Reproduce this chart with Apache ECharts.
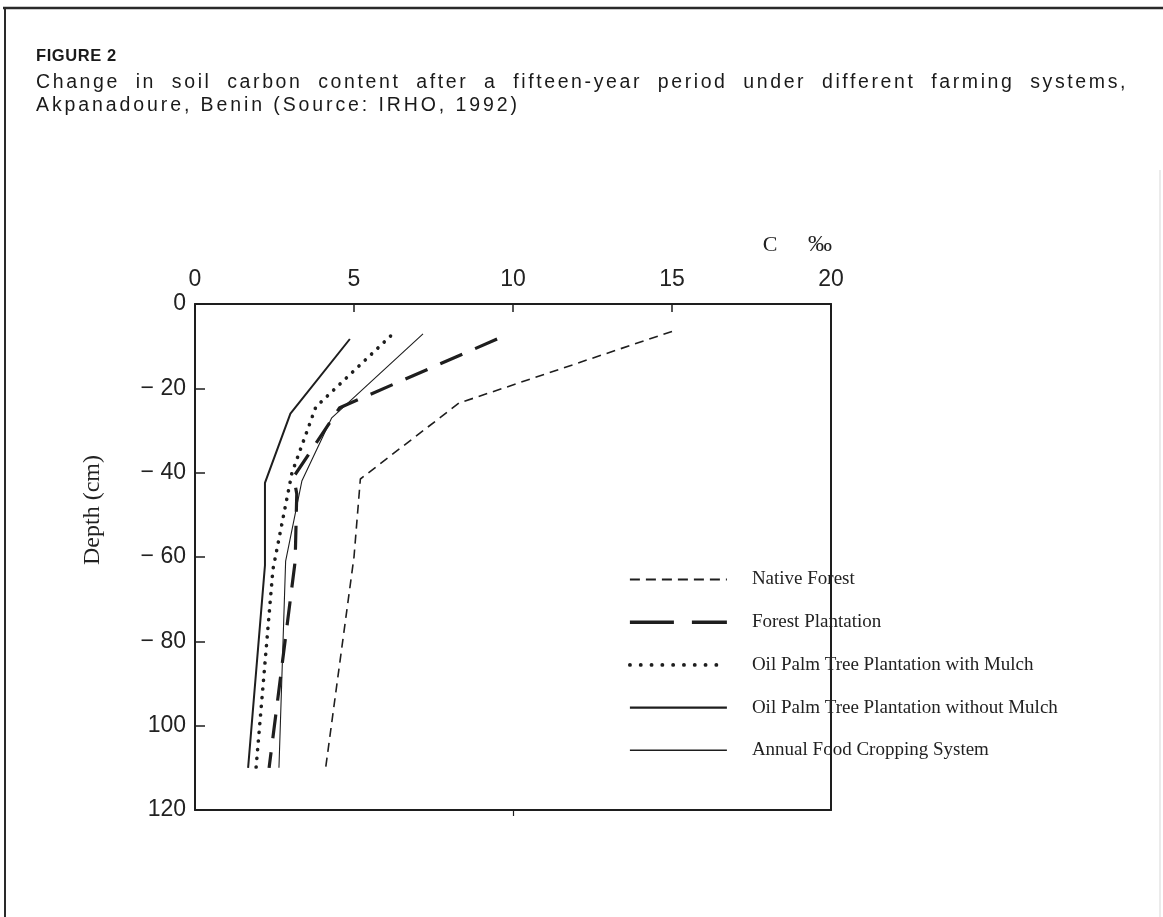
<!DOCTYPE html>
<html><head><meta charset="utf-8">
<script src="https://cdn.jsdelivr.net/npm/echarts@6/dist/echarts.min.js"></script>
<style>
html,body{margin:0;padding:0;background:#fff;}
#chart{position:absolute;left:0;top:0;width:1163px;height:917px;}
.cap{position:absolute;left:36px;font-family:"Liberation Sans",Arial,sans-serif;color:#1a1a1a;white-space:nowrap;}
</style></head><body>
<div id="chart"></div>
<div class="cap" style="top:46px;font-weight:bold;font-size:16.5px;letter-spacing:0.6px;">FIGURE 2</div>
<div class="cap" style="top:70px;width:1092px;font-size:19.5px;letter-spacing:2.6px;text-align:justify;text-align-last:justify;white-space:normal;">Change in soil carbon content after a fifteen-year period under different farming systems,</div>
<div class="cap" style="top:93px;font-size:19.5px;letter-spacing:2.9px;">Akpanadoure, Benin (Source: IRHO, 1992)</div>
<script>
// ---- data: [carbon ‰, depth cm] ----
const seriesNames = [
  'Native Forest',
  'Forest Plantation',
  'Oil Palm Tree Plantation with Mulch',
  'Oil Palm Tree Plantation without Mulch',
  'Annual Food Cropping System'
];
const nativeForest      = [[15.0, 6.5], [8.3, 23.5], [5.2, 41.5], [5.0, 60], [4.1, 110.5]];
const forestPlantation  = [[9.5, 8.3], [4.55, 24.6], [3.1, 41], [3.2, 45], [3.15, 61], [2.33, 110]];
const oilPalmMulch      = [[6.15, 7.6], [3.8, 24.4], [3.05, 40], [2.45, 63], [1.92, 110]];
const oilPalmNoMulch    = [[4.87, 8.3], [3.0, 26], [2.2, 42.4], [2.2, 62], [1.67, 110]];
const annualCropping    = [[7.17, 7.1], [4.3, 27], [3.36, 42], [2.85, 61], [2.64, 110]];
const xTickValues = [0, 5, 10, 15, 20];
const yTickLabels = ['0', '\u2212 20', '\u2212 40', '\u2212 60', '\u2212 80', '100', '120'];

const ink = '#1e1e1e';
const lineStyles = [
  {color: ink, width: 1.6, type: [9, 6]},
  {color: ink, width: 3.2, type: [24, 14]},
  {color: ink, width: 3.6, type: [0.1, 8.6], cap: 'round'},
  {color: ink, width: 2.0, type: 'solid'},
  {color: ink, width: 1.1, type: 'solid'}
];
const legendLineStyles = [
  {color: ink, width: 2, type: [10, 6]},
  {color: ink, width: 3.4, type: [44, 18]},
  {color: ink, width: 3.8, type: [0.1, 10.7], cap: 'round'},
  {color: ink, width: 2.2, type: 'solid'},
  {color: ink, width: 1.4, type: 'solid'}
];
const allData = [nativeForest, forestPlantation, oilPalmMulch, oilPalmNoMulch, annualCropping];

const chart = echarts.init(document.getElementById('chart'));
const tickFont = {fontFamily: 'Liberation Sans, Arial, sans-serif', fontSize: 23, color: '#222'};
const serif = 'Liberation Serif, Times New Roman, serif';
const axisLineStyle = {show: true, onZero: false, lineStyle: {color: ink, width: 2}};

chart.setOption({
  animation: false,
  backgroundColor: '#fff',
  grid: {left: 195, top: 304, width: 636, height: 506},
  xAxis: [{
    type: 'value', position: 'top', min: 0, max: 20, interval: 5,
    axisLine: axisLineStyle,
    axisTick: {show: true, inside: true, length: 8, lineStyle: {color: ink, width: 1.5}},
    axisLabel: Object.assign({margin: 13, formatter: v => xTickValues.includes(v) ? String(v) : ''}, tickFont),
    splitLine: {show: false}
  }, {
    type: 'value', position: 'bottom', min: 0, max: 20, interval: 10,
    axisLine: axisLineStyle,
    axisTick: {show: true, inside: false, length: 6, customValues: [10], lineStyle: {color: ink, width: 1.2}},
    axisLabel: {show: false}, splitLine: {show: false}
  }],
  yAxis: [{
    type: 'value', inverse: true, min: 0, max: 120, interval: 20,
    axisLine: axisLineStyle,
    axisTick: {show: true, inside: true, length: 10, lineStyle: {color: ink, width: 1.5}},
    axisLabel: Object.assign({margin: 9, formatter: (v) => yTickLabels[Math.round(v / 20)]}, tickFont),
    splitLine: {show: false}
  }, {
    type: 'value', position: 'right', inverse: true, min: 0, max: 120, interval: 20,
    axisLine: axisLineStyle,
    axisTick: {show: false}, axisLabel: {show: false}, splitLine: {show: false}
  }],
  legend: {
    orient: 'vertical', left: 628, top: 570, padding: 0,
    itemWidth: 97, itemHeight: 20, itemGap: 23.7,
    data: seriesNames.map((n, i) => ({name: n, lineStyle: legendLineStyles[i]})),
    itemStyle: {opacity: 0},
    textStyle: {fontFamily: serif, fontSize: 19, color: '#222', padding: [0, 0, 0, 20]}
  },
  series: seriesNames.map((n, i) => ({
    name: n, type: 'line', data: allData[i], symbol: 'none',
    lineStyle: lineStyles[i], itemStyle: {color: ink}
  })),
  graphic: [
    {type: 'line', shape: {x1: 3, y1: 8, x2: 1163, y2: 8}, style: {stroke: '#2a2a2a', lineWidth: 2.5}},
    {type: 'line', shape: {x1: 5, y1: 8, x2: 5, y2: 917}, style: {stroke: '#2a2a2a', lineWidth: 2}},
    {type: 'line', shape: {x1: 1160, y1: 170, x2: 1160, y2: 917}, style: {stroke: '#e4e4e4', lineWidth: 1.5}},
    {type: 'text', x: 770, y: 245, style: {text: 'C', font: '22px ' + serif, fill: '#222', textAlign: 'center', textVerticalAlign: 'middle'}},
    {type: 'text', x: 820, y: 245, style: {text: '\u2030', font: '24px ' + serif, fill: '#222', textAlign: 'center', textVerticalAlign: 'middle'}},
    {type: 'text', x: 93, y: 510, rotation: Math.PI / 2, style: {text: 'Depth (cm)', font: '24px ' + serif, fill: '#222', textAlign: 'center', textVerticalAlign: 'middle'}}
  ]
});
</script>
</body></html>
